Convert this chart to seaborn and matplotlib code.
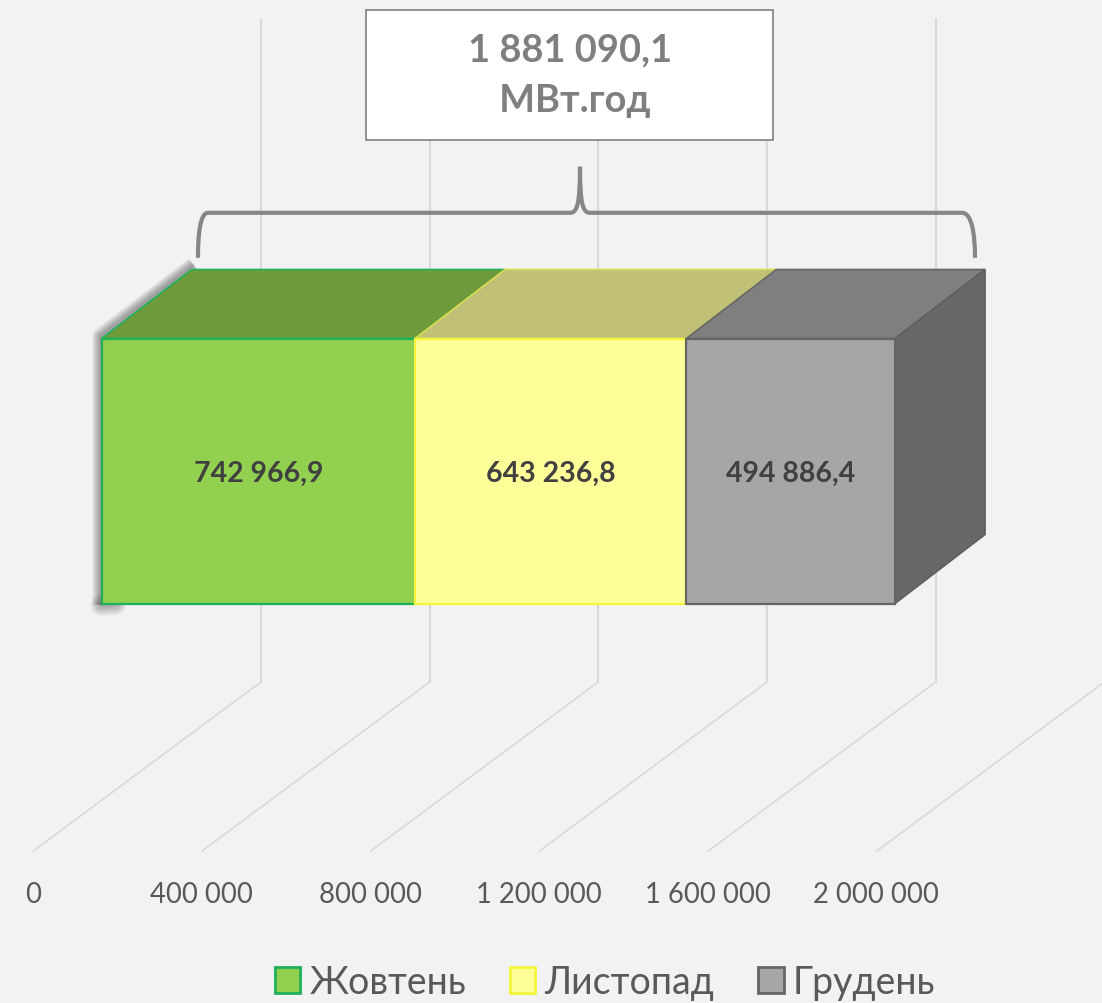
import matplotlib
matplotlib.use("Agg")
import matplotlib.pyplot as plt
from matplotlib.patches import Patch, Polygon, PathPatch, Rectangle
from matplotlib.path import Path
import pandas as pd
import seaborn as sns

months = ["Жовтень", "Листопад", "Грудень"]
values = [742966.9, 643236.8, 494886.4]
value_labels = ["742 966,9", "643 236,8", "494 886,4"]
tick_values = [0, 400000, 800000, 1200000, 1600000, 2000000]
tick_labels = ["0", "400 000", "800 000", "1 200 000", "1 600 000", "2 000 000"]
total_label = "1 881 090,1\n МВт.год"

front_colors = ["#92d050", "#ffff99", "#a6a6a6"]
top_colors = ["#6f9a3c", "#c0c076", "#7f7f7f"]
edge_colors = ["#1fb05a", "#f4f43a", "#666666"]
side_color = "#686868"
BG = "#f2f2f2"

sns.set_theme(style="white")
FONT = ["Lato", "Open Sans", "DejaVu Sans"]
plt.rcParams["font.family"] = FONT

W, H = 1102, 1004
AX_BOTTOM = 868
X0, SCALE = 101.6, 0.4218 / 1000       # pixel of value 0, pixels per unit
YC, ROW = 472.0, 265.0                 # pixel of bar centre, pixels per row unit
DX, DY = 90.0, 69.0                    # depth of the 3-D bar in pixels

fig = plt.figure(figsize=(W / 100, H / 100), dpi=100, facecolor=BG)
ax = fig.add_axes([0, 1 - AX_BOTTOM / H, 1, AX_BOTTOM / H], facecolor=BG)


def shift(px):
    return px / SCALE


def py(y_px):
    return (y_px - YC) / ROW


df = pd.DataFrame({"month": months, "value": values, "row": ""})
df["left"] = df["value"].cumsum().shift(fill_value=0.0)

# walls and floor of the 3-D grid
grid_color = "#d9d9d9"
for v in tick_values:
    ax.plot([v + shift(159.2), v + shift(159.2)], [py(20), py(683)],
            color=grid_color, lw=1.5, zorder=1)
    ax.plot([v + shift(159.2), v + shift(-68.3)], [py(683), py(852)],
            color=grid_color, lw=1.2, zorder=1)

# soft shadow on the left of the bar
sx = [shift(92), shift(-1), shift(-1)]
sy = [py(266), py(337), py(606)]
for lw in range(1, 13):
    ax.plot(sx, sy, color="#303030", alpha=0.045, lw=lw,
            solid_capstyle="butt", solid_joinstyle="round", zorder=1.5)
for lw in range(1, 17):
    ax.plot([shift(0), shift(14)], [py(606), py(605)], color="#303030", alpha=0.028, lw=lw,
            solid_capstyle="round", zorder=1.5)

# front faces
for i in range(len(df)):
    sns.barplot(data=df.iloc[[i]], x="value", y="row", left=df["left"].iloc[i],
                orient="y", width=1, color=front_colors[i], saturation=1,
                edgecolor=edge_colors[i], linewidth=1.6, ax=ax, zorder=3)

# top faces and right-hand side
ytop, ybot = py(339.5), py(604.5)
d = shift(DX)
dy = DY / ROW
for i, (l, v) in enumerate(zip(df["left"], df["value"])):
    ax.add_patch(Polygon([(l, ytop), (l + v, ytop), (l + v + d, ytop - dy), (l + d, ytop - dy)],
                         closed=True, fc=top_colors[i], ec=edge_colors[i] if i != 1 else "#dcdc50",
                         lw=1.2, zorder=2.5))
    ax.text(l + v / 2, py(474), value_labels[i], ha="center", va="center",
            fontsize=20.5, fontweight="bold", color="#404040", zorder=5)
end = df["left"].iloc[-1] + df["value"].iloc[-1]
ax.add_patch(Polygon([(end, ytop), (end + d, ytop - dy), (end + d, ybot - dy), (end, ybot)],
                     closed=True, fc=side_color, ec="#5f5f5f", lw=1.2, zorder=2.5))

ax.set_xlim(-X0 / SCALE, (W - X0) / SCALE)
ax.set_ylim(py(AX_BOTTOM), py(0))
ax.set_xticks([v + shift(-68.8) for v in tick_values], tick_labels)
ax.tick_params(axis="x", length=0, pad=10, labelsize=19.8, labelcolor="#595959")
ax.set_yticks([])
ax.set_xlabel("")
ax.set_ylabel("")
sns.despine(ax=ax, left=True, bottom=True)

# callout drawn in figure pixels
ov = fig.add_axes([0, 0, 1, 1], facecolor="none")
ov.set_xlim(0, W)
ov.set_ylim(H - 0.8, -0.8)
ov.axis("off")
ov.add_patch(Rectangle((366, 10), 407, 130, fc="white", ec="#7f7f7f", lw=1.2))
ov.text(570, 75, total_label, ha="center", va="center", fontsize=27.4,
        fontweight="bold", color="#7f7f7f", linespacing=1.6)
verts = [(198, 258), (198, 235), (200, 213), (208, 213), (570, 213),
         (577, 213), (580, 205), (580, 167),
         (580, 205), (583, 213), (590, 213), (962, 213),
         (972, 213), (975, 235), (975, 258)]
codes = [Path.MOVETO, Path.CURVE4, Path.CURVE4, Path.CURVE4, Path.LINETO,
         Path.CURVE4, Path.CURVE4, Path.CURVE4,
         Path.CURVE4, Path.CURVE4, Path.CURVE4, Path.LINETO,
         Path.CURVE4, Path.CURVE4, Path.CURVE4]
ov.add_patch(PathPatch(Path(verts, codes), fc="none", ec="#868686", lw=3))

handles = [Patch(fc=front_colors[i], ec=edge_colors[i], lw=2) for i in range(3)]
fig.legend(handles, months, loc="center", bbox_to_anchor=(605 / W, 1 - 983 / H),
           ncol=3, frameon=False, fontsize=27, labelcolor="#595959",
           handlelength=0.68, handleheight=0.68, handletextpad=0.24,
           columnspacing=1.17, borderpad=0)

fig.savefig("out.png", dpi=100, facecolor=BG)
